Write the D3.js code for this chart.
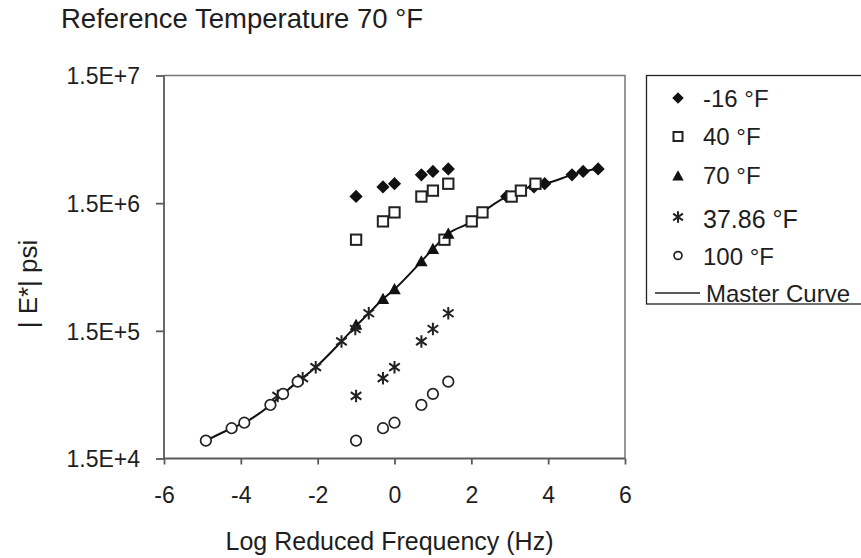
<!DOCTYPE html>
<html>
<head>
<meta charset="utf-8">
<script src="https://cdn.jsdelivr.net/npm/d3@7"></script>
<style>
  body { margin: 0; background: #fff; }
  text { font-family: "Liberation Sans", Arial, sans-serif; fill: #1e1e1e; }
</style>
</head>
<body>
<svg id="chart" width="861" height="558"></svg>
<script>
// ---- data ----
var logFreq = [-1, -0.3, 0, 0.7, 1, 1.4];   // 0.1, 0.5, 1, 5, 10, 25 Hz

var temps = ["-16 °F", "40 °F", "70 °F", "37.86 °F", "100 °F"];
var symbols = ["diamond", "square", "triangle", "star", "circle"];

var eM16  = [1.695e6, 2.01e6, 2.13e6, 2.5e6, 2.66e6, 2.78e6];
var e40   = [7.76e5, 1.08e6, 1.27e6, 1.69e6, 1.88e6, 2.13e6];
var e70   = [1.67e5, 2.66e5, 3.18e5, 5.25e5, 6.56e5, 8.65e5];
var e3786 = [4.64e4, 6.39e4, 7.79e4, 1.24e5, 1.55e5, 2.06e5];
var e100  = [2.07e4, 2.59e4, 2.86e4, 3.94e4, 4.81e4, 6.0e4];

// shifted (reduced) frequencies, null = reference temperature, not shifted
var redM16  = [2.92, 3.63, 3.91, 4.62, 4.91, 5.3];
var red40   = [1.30, 2.01, 2.29, 3.05, 3.29, 3.67];
var red70   = null;
var red3786 = [-3.04, -2.39, -2.05, -1.38, -1.02, -0.67];
var red100  = [-4.91, -4.24, -3.91, -3.23, -2.90, -2.52];

var masterX = [-4.91, -4.24, -3.91, -3.23, -2.9, -2.52, -2.05, -1.38, -1.0, -0.67, -0.3, 0,
               0.7, 1.0, 1.4, 2.01, 2.29, 2.92, 3.29, 3.65, 3.91, 4.62, 4.91, 5.3];
var masterE = [2.07e4, 2.59e4, 2.86e4, 3.94e4, 4.81e4, 6.0e4, 7.79e4, 1.24e5, 1.64e5, 2.06e5, 2.66e5, 3.18e5,
               5.25e5, 6.56e5, 8.65e5, 1.08e6, 1.27e6, 1.69e6, 1.88e6, 2.07e6, 2.13e6, 2.5e6, 2.66e6, 2.78e6];

var xTicks = [-6, -4, -2, 0, 2, 4, 6];
var yTicks = [1.5e4, 1.5e5, 1.5e6, 1.5e7];
var yTickLabels = ["1.5E+4", "1.5E+5", "1.5E+6", "1.5E+7"];

var eVals = [eM16, e40, e70, e3786, e100];
var redVals = [redM16, red40, red70, red3786, red100];

// ---- layout ----
var svg = d3.select("#chart");
var pLeft = 164, pRight = 625, pTop = 75.5, pBottom = 458.5;

var x = d3.scaleLinear().domain([-6, 6]).range([pLeft, pRight]);
var y = d3.scaleLog().domain([1.5e4, 1.5e7]).range([pBottom, pTop]);

// plot frame (top / right)
svg.append("path")
    .attr("d", "M" + pLeft + "," + pTop + "H" + pRight + "V" + pBottom)
    .attr("fill", "none")
    .attr("stroke", "#777")
    .attr("stroke-width", 1.5);

var xAxis = d3.axisBottom(x)
    .tickValues(xTicks)
    .tickSize(6)
    .tickFormat(function(d) { return String(d); });

var yAxis = d3.axisLeft(y)
    .tickValues(yTicks)
    .tickSize(8)
    .tickPadding(16)
    .tickFormat(function(d, i) { return yTickLabels[i]; });

var gX = svg.append("g")
    .attr("transform", "translate(0," + pBottom + ")")
    .call(xAxis);
gX.selectAll("text").style("font-size", "23px").attr("dy", "0").attr("y", 44);
gX.select(".domain").attr("d", "M" + pLeft + ",0H" + pRight);

var gY = svg.append("g")
    .attr("transform", "translate(" + pLeft + ",0)")
    .call(yAxis);
gY.selectAll("text").style("font-size", "23px").attr("dy", "0.36em");
gY.select(".domain").attr("d", "M0," + pTop + "V" + pBottom);

svg.selectAll(".domain, .tick line").attr("stroke", "#5a5a5a").attr("stroke-width", 1.8);
svg.selectAll(".tick text").style("fill", "#1e1e1e").style("font-family", "Liberation Sans, Arial, sans-serif");

// titles
svg.append("text")
    .attr("x", 61).attr("y", 28)
    .style("font-size", "27.5px")
    .text("Reference Temperature 70 °F");

svg.append("text")
    .attr("x", (pLeft + pRight) / 2 - 5).attr("y", 550)
    .style("text-anchor", "middle")
    .style("font-size", "25px")
    .text("Log Reduced Frequency (Hz)");

svg.append("text")
    .attr("transform", "translate(37,284) rotate(-90)")
    .style("text-anchor", "middle")
    .style("font-size", "26px")
    .text("| E*| psi");

// ---- markers ----
function marker(g, type, s) {
    if (type === "diamond") {
        var r = s * 0.55;
        g.append("path").attr("d", "M0," + (-r) + "L" + r + ",0L0," + r + "L" + (-r) + ",0Z").attr("fill", "#111");
    } else if (type === "square") {
        var h = s * 0.43;
        g.append("rect").attr("x", -h).attr("y", -h).attr("width", 2 * h).attr("height", 2 * h)
            .attr("fill", "#fff").attr("stroke", "#222").attr("stroke-width", 2);
    } else if (type === "triangle") {
        var t = s * 0.52;
        g.append("path").attr("d", "M0," + (-t) + "L" + t + "," + (t * 0.8) + "L" + (-t) + "," + (t * 0.8) + "Z")
            .attr("fill", "#111");
    } else if (type === "star") {
        var a = s * 0.52;
        g.append("path").attr("d", "M0," + (-a) + "V" + a + "M" + (-a * 0.85) + "," + (-a * 0.6) + "L" + (a * 0.85) + "," + (a * 0.6) +
            "M" + (a * 0.85) + "," + (-a * 0.6) + "L" + (-a * 0.85) + "," + (a * 0.6))
            .attr("stroke", "#222").attr("stroke-width", 2).attr("fill", "none");
    } else if (type === "circle") {
        g.append("circle").attr("r", s * 0.44).attr("fill", "#fff").attr("stroke", "#222").attr("stroke-width", 1.7);
    }
}

// master curve
var line = d3.line()
    .x(function(d) { return x(d[0]); })
    .y(function(d) { return y(d[1]); })
    .curve(d3.curveMonotoneX);

svg.append("path")
    .datum(d3.zip(masterX, masterE))
    .attr("d", line)
    .attr("fill", "none")
    .attr("stroke", "#111")
    .attr("stroke-width", 2);

// points: measured frequency + shifted frequency
temps.forEach(function(t, i) {
    var pts = [];
    eVals[i].forEach(function(e, j) {
        pts.push([logFreq[j], e]);
        if (redVals[i]) pts.push([redVals[i][j], e]);
    });
    svg.append("g").selectAll("g").data(pts).enter()
        .append("g")
        .attr("transform", function(d) { return "translate(" + x(d[0]) + "," + y(d[1]) + ")"; })
        .each(function() { marker(d3.select(this), symbols[i], 12); });
});

// ---- legend ----
svg.append("rect")
    .attr("x", 646.5).attr("y", 75.5)
    .attr("width", 230).attr("height", 228.5)
    .attr("fill", "none").attr("stroke", "#222").attr("stroke-width", 1.3);

var legY = [98, 136.5, 176, 217, 255.5];
var legBase = [107, 145, 184, 228, 265];
var legSize = [10.5, 10.5, 11, 11, 9];
temps.forEach(function(t, i) {
    var g = svg.append("g").attr("transform", "translate(678," + legY[i] + ")");
    marker(g, symbols[i], legSize[i]);
    svg.append("text")
        .attr("x", 703).attr("y", legBase[i])
        .style("font-size", i === 3 ? "25px" : "24px")
        .text(t);
});
svg.append("line")
    .attr("x1", 655).attr("x2", 700).attr("y1", 293).attr("y2", 293)
    .attr("stroke", "#222").attr("stroke-width", 1.6);
svg.append("text")
    .attr("x", 706).attr("y", 302)
    .style("font-size", "24px")
    .text("Master Curve");
</script>
</body>
</html>
